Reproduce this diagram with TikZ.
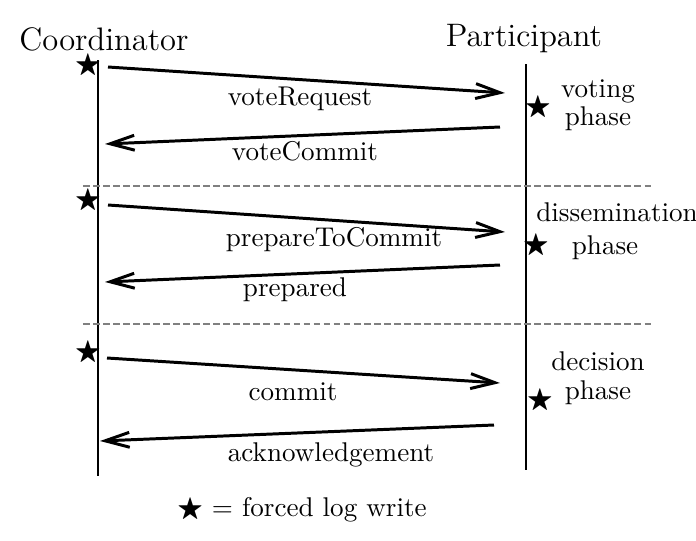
\documentclass[tikz,border=0pt]{standalone}
\usepackage{amssymb}
\usetikzlibrary{arrows.meta}

\begin{document}
\begin{tikzpicture}[x=0.369pt, y=-0.369pt,
  msg/.style={line width=1.1pt, -{Straight Barb[length=9pt,width=5.5pt]}},
  life/.style={line width=1.1pt},
  sep/.style={gray, line width=0.8pt, dash pattern=on 2.5pt off 1.2pt},
  actor/.style={font=\large},
  logw/.style={inner sep=0pt},
  phase/.style={align=center, inner sep=0pt}]
\useasboundingbox (0,0) rectangle (696,540);
% actors and lifelines
\node[actor] (coord) at (104,39) {Coordinator};
\node[actor] (part) at (524,39) {Participant};
\coordinate (c top) at (98,60);
\coordinate (c bot) at (98,476);
\coordinate (p top) at (526,64);
\coordinate (p bot) at (526,470);
\draw[life] (c top) -- (c bot);
\draw[life] (p top) -- (p bot);
% phase separators
\coordinate (s1 l) at (83,186);
\coordinate (s1 r) at (652,186);
\coordinate (s2 l) at (83,324);
\coordinate (s2 r) at (652,324);
\draw[sep] (s1 l) -- (s1 r);
\draw[sep] (s2 l) -- (s2 r);
% messages
\coordinate (m1 s) at (108,67);
\coordinate (m1 e) at (505,93);
\coordinate (m2 s) at (500,127);
\coordinate (m2 e) at (105,144);
\coordinate (m3 s) at (108,205);
\coordinate (m3 e) at (505,232);
\coordinate (m4 s) at (500,265);
\coordinate (m4 e) at (105,282);
\coordinate (m5 s) at (107,358);
\coordinate (m5 e) at (500,383);
\coordinate (m6 s) at (494,425);
\coordinate (m6 e) at (100,441);
\draw[msg] (m1 s) -- (m1 e);
\draw[msg] (m2 s) -- (m2 e);
\draw[msg] (m3 s) -- (m3 e);
\draw[msg] (m4 s) -- (m4 e);
\draw[msg] (m5 s) -- (m5 e);
\draw[msg] (m6 s) -- (m6 e);
\node (l1) at (300,99) {voteRequest};
\node (l2) at (305,151) {voteCommit};
\node (l3) at (334,240) {prepareToCommit};
\node (l4) at (295,290) {prepared};
\node (l5) at (293,392) {commit};
\node (l6) at (331,455) {acknowledgement};
% forced log writes
\node[logw] (w1) at (88,66) {$\bigstar$};
\node[logw] (w2) at (88,201) {$\bigstar$};
\node[logw] (w3) at (88,353) {$\bigstar$};
\node[logw] (w4) at (538,108) {$\bigstar$};
\node[logw] (w5) at (536,246) {$\bigstar$};
\node[logw] (w6) at (540,401) {$\bigstar$};
% phases
\node[phase] (ph1) at (598,105) {voting\\[-1.5pt]phase};
\node[phase] (ph2) at (617,231) {dissemination\\phase\hspace*{8.8pt}};
\node[phase] (ph3) at (598,378) {decision\\[-1.5pt]phase};
% legend
\node (key) at (302,510) {$\bigstar$ = forced log write};
\end{tikzpicture}
\end{document}
